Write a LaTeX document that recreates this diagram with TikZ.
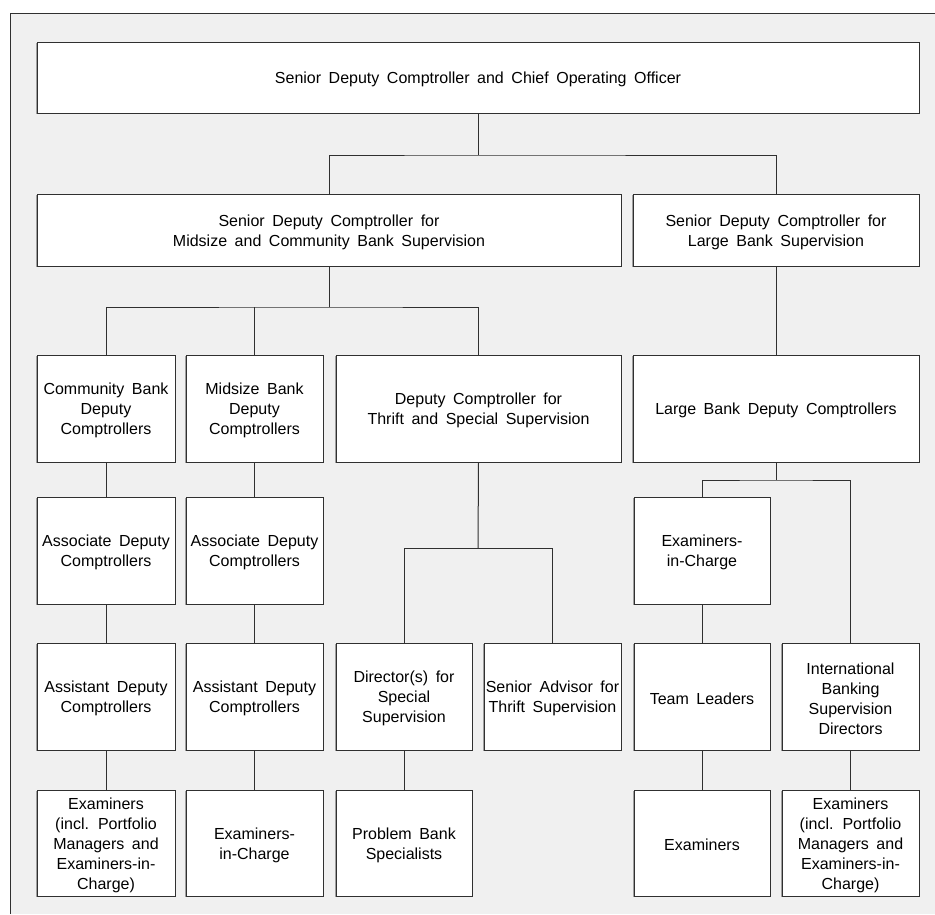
\documentclass[tikz,border=0pt]{standalone}
\usepackage{fontspec}
\setmainfont{Liberation Sans}[WordSpace={1.7,0,0}]
\usetikzlibrary{shadows}
\definecolor{panel}{HTML}{F0F0F0}
\definecolor{ink}{HTML}{303030}
% a framed box (name, width, height, centre) with its centred label set a little low
\newcommand\orgbox[5]{%
  \node[box, minimum width=#2, minimum height=#3] (#1) at (#4) {};
  \node[boxtext] at ([yshift=-2pt]#1.center) {#5};}
\begin{document}
\begin{tikzpicture}[x=1pt,y=-1pt,
  box/.style={draw=ink, line width=1pt, fill=white, inner sep=0pt,
    drop shadow={shadow xshift=-1pt, shadow yshift=-1pt, fill=gray!75, opacity=1}},
  boxtext/.style={align=center, inner sep=0pt, font=\fontsize{16}{20}\selectfont},
  link/.style={draw=ink, line width=1pt}]
% page and panel
\useasboundingbox (0,0) rectangle (935,914);
\fill[white] (0,0) rectangle (935,914);
\fill[panel] (10,13) rectangle (935,914);
\draw[ink, line width=1pt] (10,914) -- (10,13) -- (935,13);

% level 1
\orgbox{coo}{882}{71}{478,77.5}{Senior Deputy Comptroller and Chief Operating Officer}
% level 2
\orgbox{smc}{584}{72}{329,230}{Senior Deputy Comptroller for\\Midsize and Community Bank Supervision}
\orgbox{slb}{286}{72}{776,230}{Senior Deputy Comptroller for\\Large Bank Supervision}
% level 3
\orgbox{cbd}{138}{107}{106,408.5}{Community Bank\\Deputy\\Comptrollers}
\orgbox{mbd}{137}{107}{254.5,408.5}{Midsize Bank\\Deputy\\Comptrollers}
\orgbox{dts}{285}{107}{478.5,408.5}{Deputy Comptroller for\\Thrift and Special Supervision}
\orgbox{lbd}{286}{107}{776,408.5}{Large Bank Deputy Comptrollers}
% level 4
\orgbox{adc1}{138}{107}{106,550.5}{Associate Deputy\\Comptrollers}
\orgbox{adc2}{137}{107}{254.5,550.5}{Associate Deputy\\Comptrollers}
\orgbox{eic}{136}{107}{702,550.5}{Examiners-\\in-Charge}
% level 5
\orgbox{asc1}{138}{107}{106,696.5}{Assistant Deputy\\Comptrollers}
\orgbox{asc2}{137}{107}{254.5,696.5}{Assistant Deputy\\Comptrollers}
\orgbox{dss}{136}{107}{404,696.5}{Director(s) for\\Special\\Supervision}
\orgbox{sat}{137}{107}{552.5,696.5}{Senior Advisor for\\Thrift Supervision}
\orgbox{tml}{136}{107}{702,696.5}{Team Leaders}
\orgbox{ibs}{137}{107}{850.5,696.5}{International\\Banking\\Supervision\\Directors}
% level 6
\orgbox{ex1}{138}{106}{106,843}{Examiners\\(incl. Portfolio\\Managers and\\Examiners-in-\\Charge)}
\orgbox{eic2}{137}{106}{254.5,843}{Examiners-\\in-Charge}
\orgbox{pbs}{136}{106}{404,843}{Problem Bank\\Specialists}
\orgbox{exm}{136}{106}{702,843}{Examiners}
\orgbox{ex2}{137}{106}{850.5,843}{Examiners\\(incl. Portfolio\\Managers and\\Examiners-in-\\Charge)}

% junction points
\coordinate (j1) at (478,155);
\coordinate (j2) at (329,307);
\coordinate (j3) at (478,548);
\coordinate (j4) at (776,480);

% connectors
\draw[link] (coo.south) -- (j1);
\draw[link] (smc.north) |- (j1) -| (slb.north);
\draw[link] (smc.south) -- (j2);
\draw[link] (cbd.north) |- (j2) -| (dts.north);
\draw[link] (mbd.north) -- (mbd.north |- j2);
\draw[link] (slb.south) -- (lbd.north);
\draw[link] (cbd) -- (adc1);
\draw[link] (adc1) -- (asc1);
\draw[link] (asc1) -- (ex1);
\draw[link] (mbd) -- (adc2);
\draw[link] (adc2) -- (asc2);
\draw[link] (asc2) -- (eic2);
\draw[link] (dts.south) -- (j3);
\draw[link] (dss.north) |- (j3) -| (sat.north);
\draw[link] (dss) -- (pbs);
\draw[link] (lbd.south) -- (j4);
\draw[link] (eic.north) |- (j4) -| (ibs.north);
\draw[link] (eic) -- (tml);
\draw[link] (tml) -- (exm);
\draw[link] (ibs) -- (ex2);
\end{tikzpicture}
\end{document}
